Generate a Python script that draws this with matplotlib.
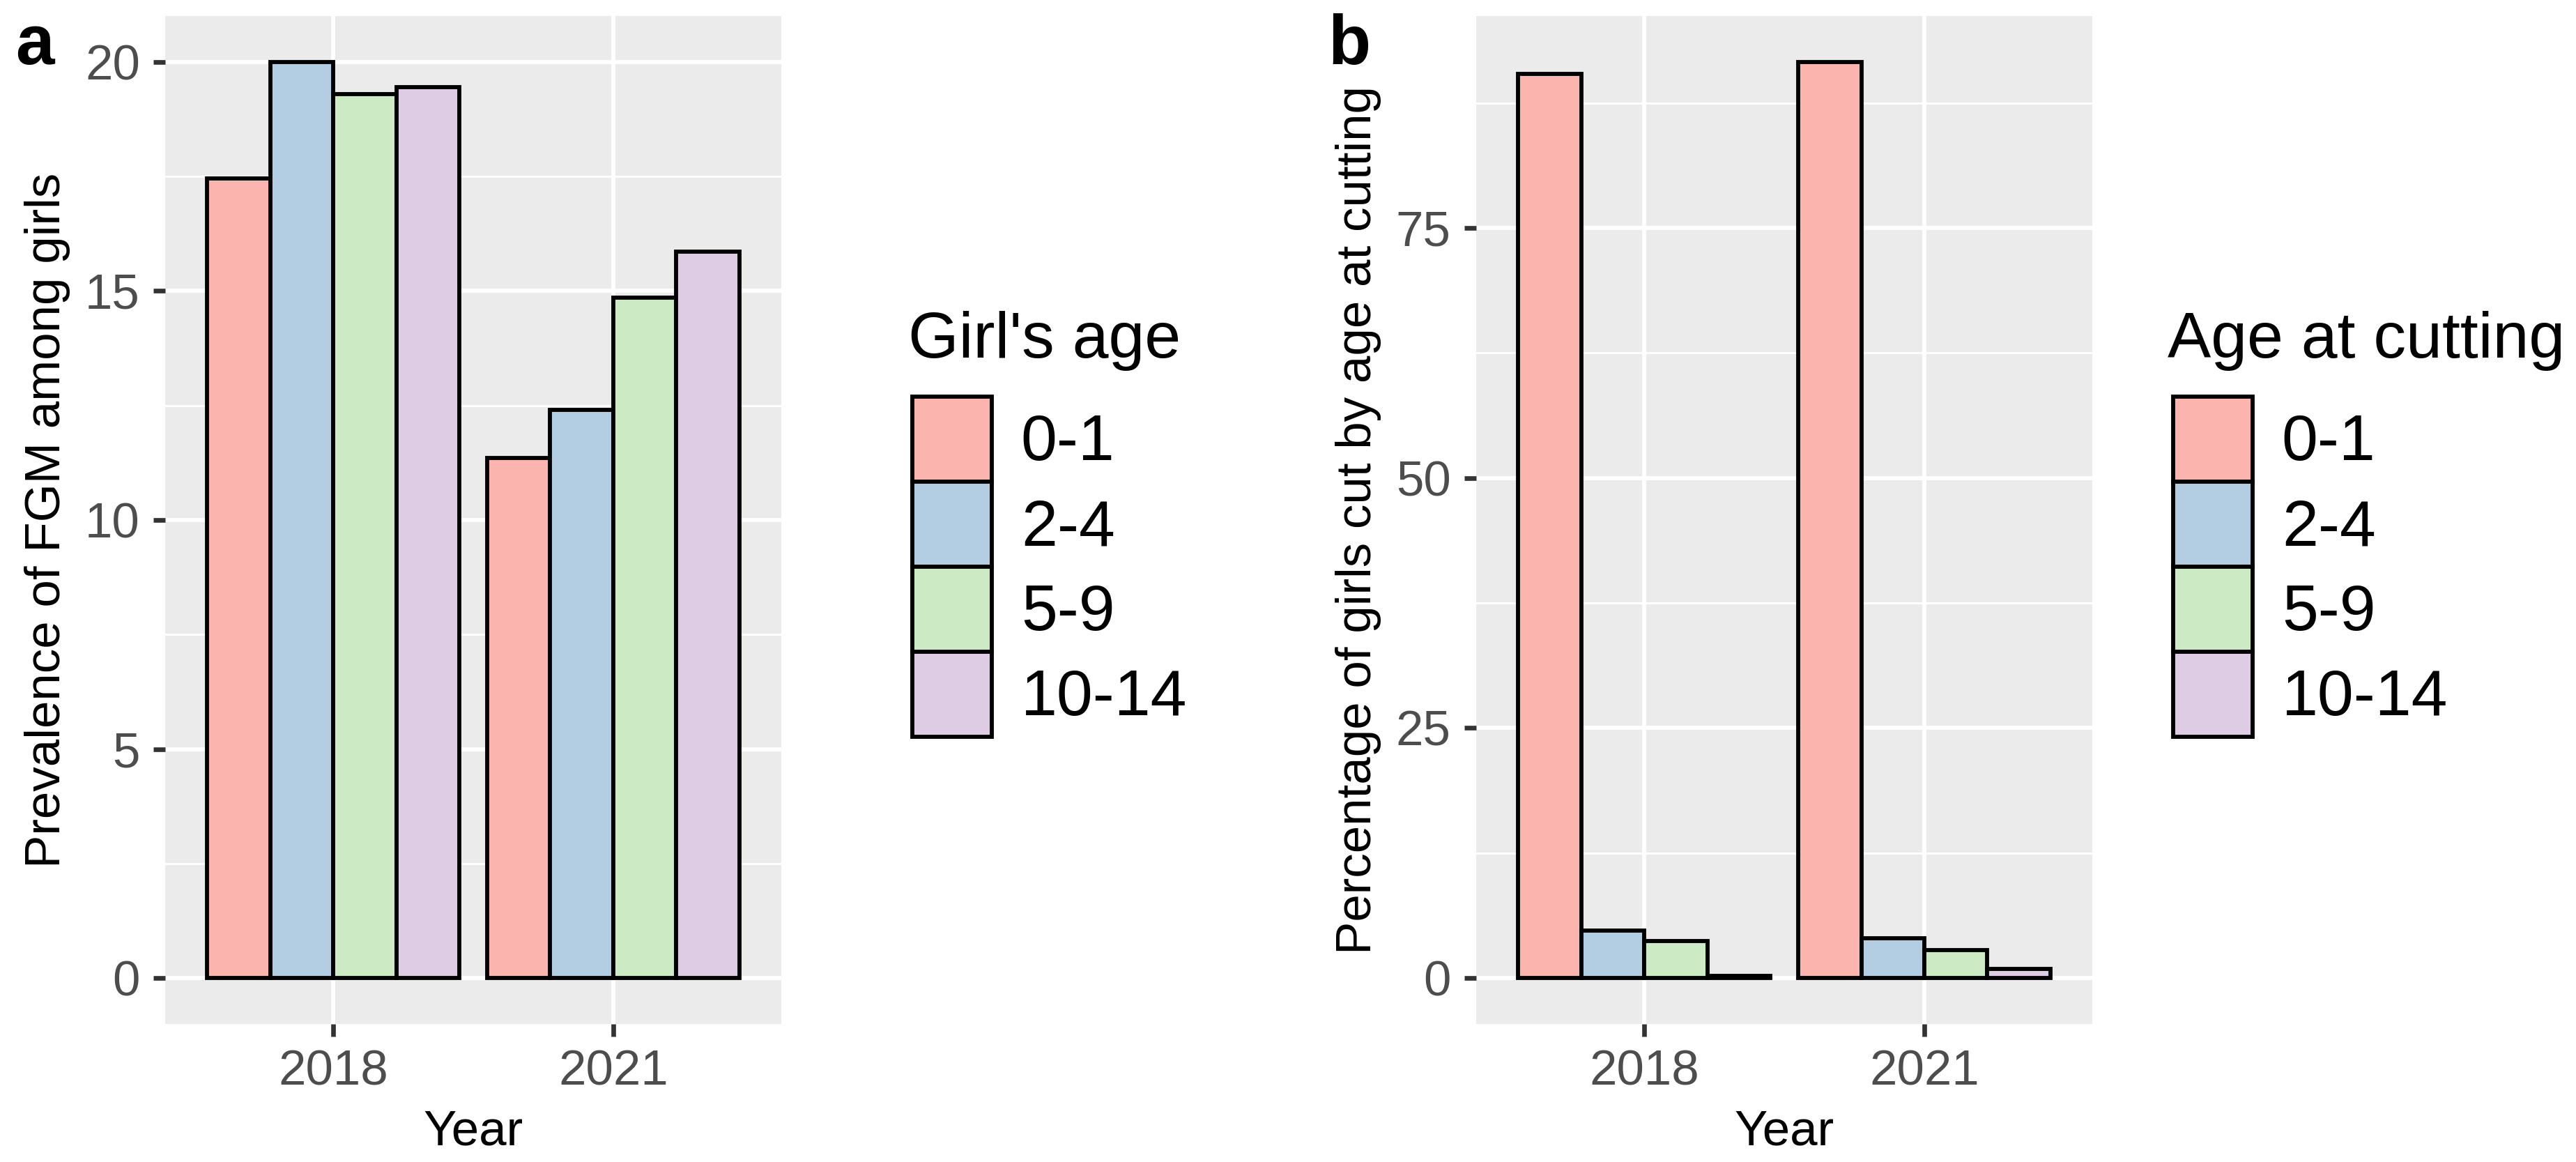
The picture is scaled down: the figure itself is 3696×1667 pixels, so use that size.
import numpy as np
import matplotlib
matplotlib.use("Agg")
import matplotlib.pyplot as plt
from matplotlib.ticker import MultipleLocator

plt.rcParams['font.family'] = ['Liberation Sans', 'DejaVu Sans']

# Data
years = ["2018", "2021"]
ages = ["0-1", "2-4", "5-9", "10-14"]
colors = ["#FBB4AE", "#B3CDE3", "#CCEBC5", "#DECBE4"]

# panel a: prevalence of FGM among girls, by girl's age
prev_2018 = [17.45, 20.0, 19.3, 19.45]
prev_2021 = [11.35, 12.4, 14.85, 15.85]

# panel b: percentage of girls cut, by age at cutting
cut_2018 = [90.4, 4.75, 3.7, 0.2]
cut_2021 = [91.6, 4.0, 2.8, 0.9]

W, H = 3696, 1667
DPI = 300
fig = plt.figure(figsize=(W / DPI, H / DPI), dpi=DPI)

TICK_FS = 17
TITLE_FS = 17
LEG_FS = 22.4
EDGE_LW = 1.4


def px(x, y):
    # pixel coords (top-left origin) -> figure fraction
    return x / W, 1 - y / H


def draw_panel(rect, series, ylabel, major, minor):
    ax = fig.add_axes(rect)
    ax.set_facecolor("#EBEBEB")
    for s in ax.spines.values():
        s.set_visible(False)

    vals = np.array(series)  # shape (years, ages)
    x = np.arange(1, len(years) + 1)
    dodge = 0.9
    bw = dodge / len(ages)
    handles = []
    for i, age in enumerate(ages):
        off = -dodge / 2 + bw * (i + 0.5)
        b = ax.bar(x + off, vals[:, i], width=bw, color=colors[i],
                   edgecolor="black", linewidth=EDGE_LW, label=age, zorder=3)
        handles.append(b)

    ymax = vals.max()
    ax.set_ylim(-0.05 * ymax, 1.05 * ymax)
    ax.set_xlim(0.4, len(years) + 0.6)
    ax.set_xticks(x, years)
    ax.yaxis.set_major_locator(MultipleLocator(major))
    ax.yaxis.set_minor_locator(MultipleLocator(minor))
    ax.yaxis.set_major_formatter(lambda v, p: f"{v:g}")

    ax.grid(which="major", color="white", linewidth=1.4, zorder=0)
    ax.grid(which="minor", axis="y", color="white", linewidth=0.7, zorder=0)
    ax.set_axisbelow(True)

    ax.tick_params(which="major", length=4.2, width=1.6, color="#333333",
                   labelsize=TICK_FS, labelcolor="#4D4D4D", pad=4.5)
    ax.tick_params(which="minor", length=0)
    ax.set_xlabel("Year", fontsize=TITLE_FS, labelpad=4.8)
    ax.set_ylabel(ylabel, fontsize=TITLE_FS, labelpad=5)
    return ax, handles


def draw_legend(ax, handles, title, key_x, key_y, title_x):
    fig.text(*px(title_x, 513), title, fontsize=LEG_FS, ha="left", va="baseline")
    ax.legend(handles=handles, loc="upper left",
              bbox_to_anchor=px(key_x, key_y), bbox_transform=fig.transFigure,
              frameon=False, fontsize=LEG_FS, borderpad=0, borderaxespad=0,
              labelspacing=0, handlelength=1.22, handleheight=1.634,
              handletextpad=0.45)


axw = (1121 - 237) / W
axh = (1469 - 23) / H
bottom = 1 - 1469 / H

ax_a, h_a = draw_panel([237 / W, bottom, axw, axh], [prev_2018, prev_2021],
                       "Prevalence of FGM among girls", 5, 2.5)
ax_b, h_b = draw_panel([2118 / W, bottom, axw, axh], [cut_2018, cut_2021],
                       "Percentage of girls cut by age at cutting", 25, 12.5)

draw_legend(ax_a, h_a, "Girl's age", 1309, 569, 1303)
draw_legend(ax_b, h_b, "Age at cutting", 3118, 569, 3110)

fig.text(*px(22, 92), "a", fontsize=24, fontweight="bold", va="baseline")
fig.text(*px(1905, 92), "b", fontsize=24, fontweight="bold", va="baseline")

fig.savefig("out.png", dpi=DPI, facecolor="white")
